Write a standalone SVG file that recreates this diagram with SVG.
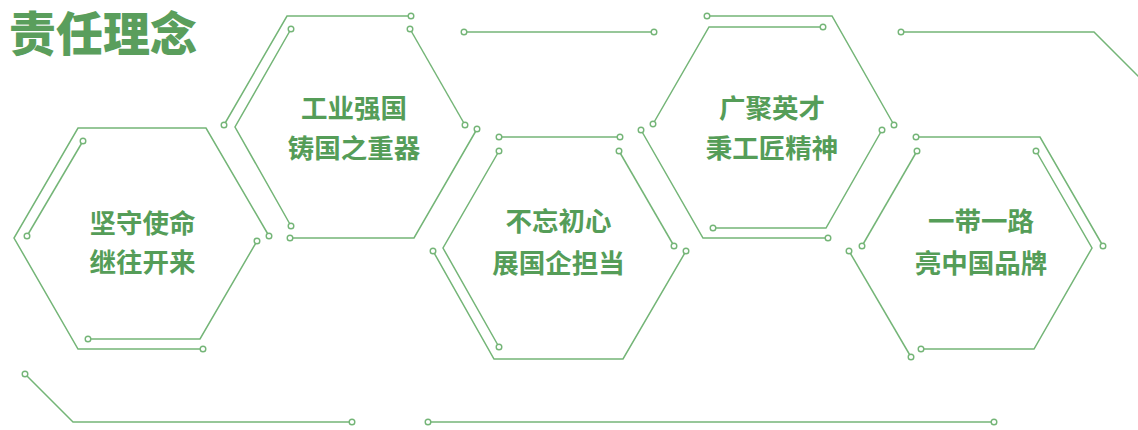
<svg xmlns="http://www.w3.org/2000/svg" width="1138" height="430" viewBox="0 0 1138 430">
<defs>
<style>
.ln{fill:none;stroke:#74b577;stroke-width:1.5;stroke-linejoin:miter}
.dot{fill:#ffffff;stroke:#74b577;stroke-width:1.4}
.lbl{font-family:"Noto Sans CJK SC","Noto Sans",sans-serif;font-weight:700;font-size:26.5px;fill:#559d58;text-anchor:middle}
.title{font-family:"Noto Sans CJK SC","Noto Sans",sans-serif;font-weight:900;font-size:47px;fill:#5a9e5c}
</style>
</defs>
<rect width="1138" height="430" fill="#ffffff"/>
<text class="title" x="9" y="51">责任理念</text>

<g id="decor">
<path class="ln" d="M464,32 H654"/>
<path class="ln" d="M901,32 H1094 L1150,88"/>
<path class="ln" d="M25,374 L73,422 H352"/>
<path class="ln" d="M428,422 H994"/>
<circle class="dot" cx="464" cy="32" r="2.8"/>
<circle class="dot" cx="654" cy="32" r="2.8"/>
<circle class="dot" cx="901" cy="32" r="2.8"/>
<circle class="dot" cx="25" cy="374" r="2.8"/>
<circle class="dot" cx="352" cy="422" r="2.8"/>
<circle class="dot" cx="428" cy="422" r="2.8"/>
<circle class="dot" cx="994" cy="422" r="2.8"/>
</g>

<g id="node1">
<path class="ln" d="M269,236 L206,128 H78 L14,238 L78,349 H203"/>
<path class="ln" d="M83,141 L27,236"/>
<path class="ln" d="M257,241 L200,339 H88"/>
<circle class="dot" cx="269" cy="236" r="2.8"/>
<circle class="dot" cx="203" cy="349" r="2.8"/>
<circle class="dot" cx="83" cy="141" r="2.8"/>
<circle class="dot" cx="27" cy="236" r="2.8"/>
<circle class="dot" cx="257" cy="241" r="2.8"/>
<circle class="dot" cx="88" cy="339" r="2.8"/>
<text class="lbl" x="142.5" y="232.5">坚守使命</text>
<text class="lbl" x="142.5" y="271.5">继往开来</text>
</g>

<g id="node2">
<path class="ln" d="M411,16 H287 L224,125"/>
<path class="ln" d="M291,29 L235,127 L291,226"/>
<path class="ln" d="M410,29 L465,125"/>
<path class="ln" d="M477,129 L414,238 H290"/>
<circle class="dot" cx="411" cy="16" r="2.8"/>
<circle class="dot" cx="224" cy="125" r="2.8"/>
<circle class="dot" cx="291" cy="29" r="2.8"/>
<circle class="dot" cx="291" cy="226" r="2.8"/>
<circle class="dot" cx="410" cy="29" r="2.8"/>
<circle class="dot" cx="465" cy="125" r="2.8"/>
<circle class="dot" cx="477" cy="129" r="2.8"/>
<circle class="dot" cx="290" cy="238" r="2.8"/>
<text class="lbl" x="354" y="117.5">工业强国</text>
<text class="lbl" x="354" y="158">铸国之重器</text>
</g>

<g id="node3">
<path class="ln" d="M499,137 H620"/>
<path class="ln" d="M499,151 L443,248 L499,347"/>
<path class="ln" d="M433,251 L494,359 H623 L686,251"/>
<path class="ln" d="M619,151 L674,246"/>
<circle class="dot" cx="499" cy="137" r="2.8"/>
<circle class="dot" cx="620" cy="137" r="2.8"/>
<circle class="dot" cx="499" cy="151" r="2.8"/>
<circle class="dot" cx="499" cy="347" r="2.8"/>
<circle class="dot" cx="433" cy="251" r="2.8"/>
<circle class="dot" cx="686" cy="251" r="2.8"/>
<circle class="dot" cx="619" cy="151" r="2.8"/>
<circle class="dot" cx="674" cy="246" r="2.8"/>
<text class="lbl" x="558.5" y="230.5">不忘初心</text>
<text class="lbl" x="558.5" y="272.5">展国企担当</text>
</g>

<g id="node4">
<path class="ln" d="M707,16 H832 L894,125"/>
<path class="ln" d="M823,27 H709 L653,124"/>
<path class="ln" d="M641,130 L703,238 H828"/>
<path class="ln" d="M713,228 H826 L882,130"/>
<circle class="dot" cx="707" cy="16" r="2.8"/>
<circle class="dot" cx="894" cy="125" r="2.8"/>
<circle class="dot" cx="823" cy="27" r="2.8"/>
<circle class="dot" cx="653" cy="124" r="2.8"/>
<circle class="dot" cx="641" cy="130" r="2.8"/>
<circle class="dot" cx="828" cy="238" r="2.8"/>
<circle class="dot" cx="713" cy="228" r="2.8"/>
<circle class="dot" cx="882" cy="130" r="2.8"/>
<text class="lbl" x="772" y="117.5">广聚英才</text>
<text class="lbl" x="772" y="157.5">秉工匠精神</text>
</g>

<g id="node5">
<path class="ln" d="M916,137 H1040 L1103,246"/>
<path class="ln" d="M917,151 L862,246"/>
<path class="ln" d="M1036,151 L1092,248 L1034,349 H921"/>
<path class="ln" d="M849,251 L911,357"/>
<circle class="dot" cx="916" cy="137" r="2.8"/>
<circle class="dot" cx="1103" cy="246" r="2.8"/>
<circle class="dot" cx="917" cy="151" r="2.8"/>
<circle class="dot" cx="862" cy="246" r="2.8"/>
<circle class="dot" cx="1036" cy="151" r="2.8"/>
<circle class="dot" cx="921" cy="349" r="2.8"/>
<circle class="dot" cx="849" cy="251" r="2.8"/>
<circle class="dot" cx="911" cy="357" r="2.8"/>
<text class="lbl" x="981" y="230.5">一带一路</text>
<text class="lbl" x="981" y="272.5">亮中国品牌</text>
</g>
</svg>
